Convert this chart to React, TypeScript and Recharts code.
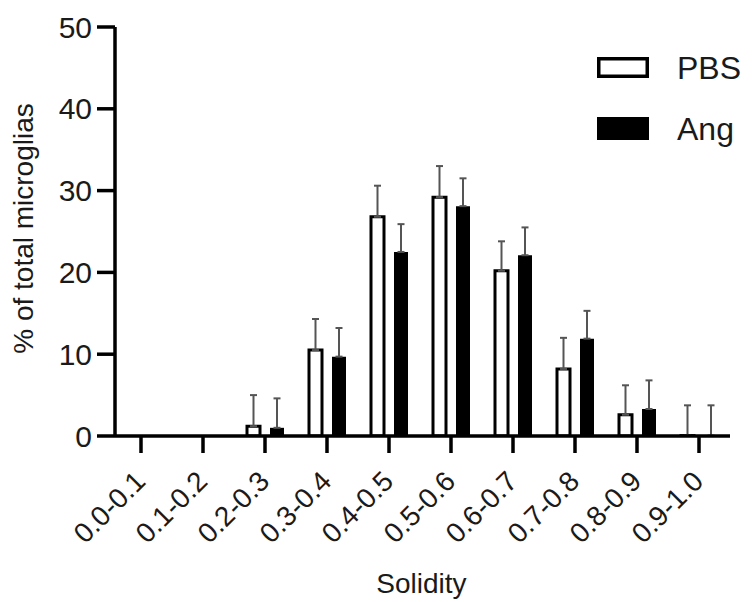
import { Bar, BarChart, ErrorBar, XAxis, YAxis } from "recharts"

const categories = [
  "0.0-0.1",
  "0.1-0.2",
  "0.2-0.3",
  "0.3-0.4",
  "0.4-0.5",
  "0.5-0.6",
  "0.6-0.7",
  "0.7-0.8",
  "0.8-0.9",
  "0.9-1.0",
]
// last bin is ~0 in the picture; tiny value keeps its error bar drawn
const pbsMean = [0, 0, 1.2, 10.5, 26.8, 29.2, 20.2, 8.2, 2.6, 0.05]
const pbsErr = [0, 0, 3.8, 3.8, 3.8, 3.8, 3.6, 3.8, 3.6, 3.7]
const angMean = [0, 0, 1.0, 9.7, 22.5, 28.1, 22.1, 11.9, 3.3, 0.05]
const angErr = [0, 0, 3.6, 3.5, 3.4, 3.4, 3.4, 3.4, 3.5, 3.7]
const yTicks = [0, 10, 20, 30, 40, 50]

const FONT = '"Liberation Sans", Arial, Helvetica, sans-serif'
const TEXT = "#1a1a1a"

const data = categories.map((name, i) => ({
  name,
  pbs: pbsMean[i],
  pbsErr: [0, pbsErr[i]],
  ang: angMean[i],
  angErr: [0, angErr[i]],
}))

function XTick({ x, y, payload }: any) {
  return (
    <text
      transform={`translate(${x + 6},${y + 28}) rotate(-45)`}
      textAnchor="end"
      fontSize={28}
      fontFamily={FONT}
      fill={TEXT}
    >
      {payload.value}
    </text>
  )
}

function LegendBox() {
  return (
    <svg width={155} height={95} style={{ display: "block" }}>
      <rect x={1.75} y={1.75} width={48.5} height={17.5} fill="#fff" stroke="#000" strokeWidth={3.5} />
      <text x={80} y={22} fontSize={32} fontFamily={FONT} fill={TEXT}>
        PBS
      </text>
      <rect x={0} y={60} width={52} height={23} fill="#000" />
      <text x={80} y={83} fontSize={32} fontFamily={FONT} fill={TEXT}>
        Ang
      </text>
    </svg>
  )
}

export default function App() {
  return (
    <div style={{ position: "absolute", left: 0, top: 0, width: 752, height: 602, background: "#fff" }}>
      <BarChart
        width={752}
        height={602}
        data={data}
        margin={{ top: 27, right: 22, bottom: 0, left: 0 }}
        barGap={10}
      >
        <XAxis
          dataKey="name"
          height={166}
          padding={{ left: -5, right: 0 }}
          axisLine={{ stroke: "#000", strokeWidth: 3.5 }}
          tickLine={{ stroke: "#000", strokeWidth: 3.5 }}
          tickSize={17}
          tick={<XTick />}
          interval={0}
          label={{
            content: ({ viewBox }: any) => (
              <text
                x={viewBox.x + viewBox.width / 2 - 1}
                y={viewBox.y + viewBox.height - 9}
                textAnchor="middle"
                fontSize={28}
                fontFamily={FONT}
                fill={TEXT}
              >
                Solidity
              </text>
            ),
          }}
        />
        <YAxis
          width={115}
          domain={[0, 50]}
          ticks={yTicks}
          allowDataOverflow
          axisLine={{ stroke: "#000", strokeWidth: 3.5 }}
          tickLine={{ stroke: "#000", strokeWidth: 3.5 }}
          tickSize={18}
          tickMargin={5}
          tick={{ fontSize: 30, fontFamily: FONT, fill: TEXT }}
          label={{
            content: ({ viewBox }: any) => (
              <text
                transform={`translate(33,${viewBox.y + viewBox.height / 2 - 3}) rotate(-90)`}
                textAnchor="middle"
                fontSize={28}
                fontFamily={FONT}
                fill={TEXT}
              >
                % of total microglias
              </text>
            ),
          }}
        />
        <Bar
          dataKey="pbs"
          name="PBS"
          fill="#fff"
          stroke="#000"
          strokeWidth={3}
          barSize={13}
          isAnimationActive={false}
        >
          <ErrorBar dataKey="pbsErr" width={3.5} stroke="#555" strokeWidth={2} direction="y" />
        </Bar>
        <Bar dataKey="ang" name="Ang" fill="#000" barSize={14} isAnimationActive={false}>
          <ErrorBar dataKey="angErr" width={3.5} stroke="#555" strokeWidth={2} direction="y" />
        </Bar>
      </BarChart>
      <div style={{ position: "absolute", left: 597, top: 57 }}>
        <LegendBox />
      </div>
    </div>
  )
}
